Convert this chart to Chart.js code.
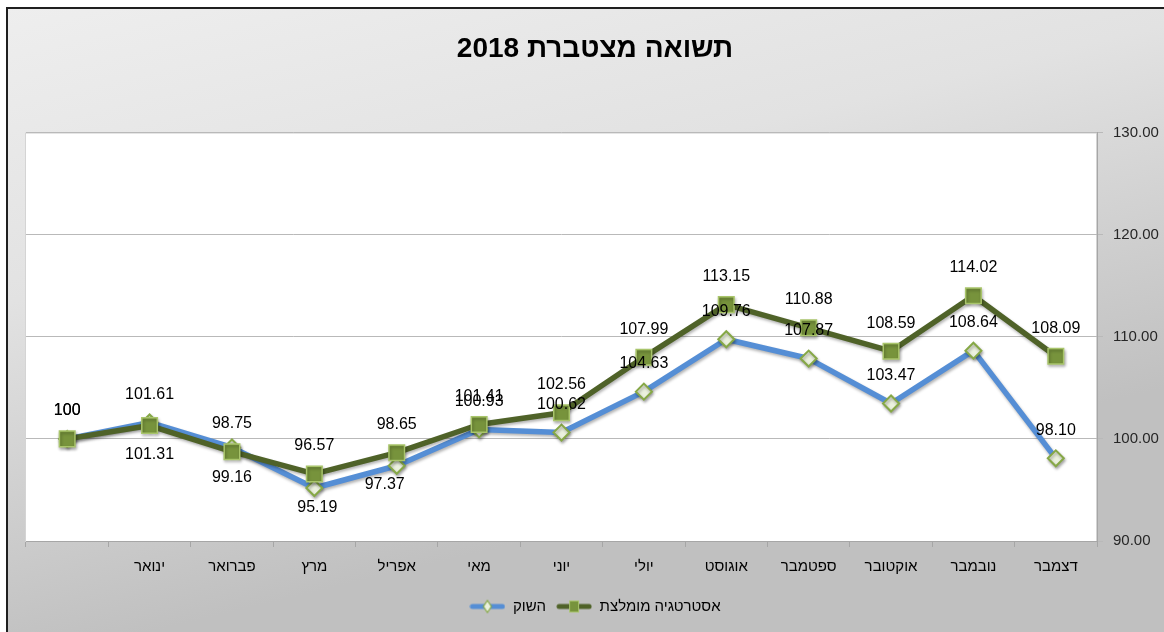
<!DOCTYPE html>
<html>
<head>
<meta charset="utf-8">
<script src="https://cdn.jsdelivr.net/npm/chart.js@4.4.1/dist/chart.umd.min.js"></script>
<style>
html,body{margin:0;padding:0;background:#fff;overflow:hidden}
#wrap{width:1164px;height:632px;position:relative}
</style>
</head>
<body>
<div id="wrap"><canvas id="c" width="1164" height="632"></canvas></div>
<script>
// ---- data ----
const chartTitle = 'תשואה מצטברת 2018';
const categories = ['', 'ינואר', 'פברואר', 'מרץ', 'אפריל', 'מאי', 'יוני', 'יולי', 'אוגוסט', 'ספטמבר', 'אוקטובר', 'נובמבר', 'דצמבר'];
const marketName = 'השוק';
const strategyName = 'אסטרטגיה מומלצת';
const marketValues = [100, 101.61, 99.16, 95.19, 97.37, 100.93, 100.62, 104.63, 109.76, 107.87, 103.47, 108.64, 98.10];
const strategyValues = [100, 101.31, 98.75, 96.57, 98.65, 101.41, 102.56, 107.99, 113.15, 110.88, 108.59, 114.02, 108.09];
const yTicks = [90, 100, 110, 120, 130];

// ---- styles ----
const FONT = "'Liberation Sans', Arial, 'DejaVu Sans', sans-serif";
const BLUE = '#558ED5';
const OLIVE = '#4F6228';
const SQ_FILL = '#77933C';
const SQ_BORDER = '#A9C56B';
const DI_FILL = '#EBF1DE';
const DI_BORDER = '#86A846';
const AXIS = '#a6a6a6';

Chart.defaults.font.family = FONT;
Chart.defaults.color = '#000';

function legendIcon(lineColor, marker) {
  const c = document.createElement('canvas');
  c.width = 36; c.height = 16;
  const g = c.getContext('2d');
  g.strokeStyle = lineColor; g.lineWidth = 5; g.lineCap = 'round';
  g.beginPath(); g.moveTo(3, 8); g.lineTo(33, 8); g.stroke();
  if (marker === 'diamond') {
    g.fillStyle = DI_FILL; g.strokeStyle = DI_BORDER; g.lineWidth = 1.2;
    g.beginPath(); g.moveTo(18, 2); g.lineTo(22, 8); g.lineTo(18, 14); g.lineTo(14, 8); g.closePath();
    g.fill(); g.stroke();
  } else {
    g.fillStyle = SQ_FILL; g.strokeStyle = SQ_BORDER; g.lineWidth = 1;
    g.fillRect(13, 2, 10, 12); g.strokeRect(13.5, 2.5, 9, 11);
  }
  return c;
}

const bgPlugin = {
  id: 'bg',
  beforeDraw(chart) {
    const {ctx, width, height, chartArea: a} = chart;
    ctx.save();
    ctx.fillStyle = '#fff';
    ctx.fillRect(0, 0, width, height);
    const gr = ctx.createLinearGradient(0, 8, 150, height);
    gr.addColorStop(0, '#eeeeee');
    gr.addColorStop(0.45, '#e2e2e2');
    gr.addColorStop(1, '#c0c0c0');
    ctx.fillStyle = gr;
    ctx.fillRect(7, 8, width - 7, height - 8);
    ctx.strokeStyle = '#1f1f1f';
    ctx.lineWidth = 2;
    ctx.beginPath();
    ctx.moveTo(7, height); ctx.lineTo(7, 8); ctx.lineTo(width, 8);
    ctx.stroke();
    ctx.fillStyle = '#fff';
    ctx.fillRect(a.left, a.top, a.right - a.left, a.bottom - a.top);
    ctx.strokeStyle = '#d4d4d4';
    ctx.lineWidth = 1;
    ctx.strokeRect(a.left - 0.5, a.top + 0.5, a.right - a.left, a.bottom - a.top);
    ctx.restore();
  }
};

const shadowPlugin = {
  id: 'shadow',
  beforeDatasetDraw(chart) {
    const ctx = chart.ctx;
    ctx.save();
    ctx.shadowColor = 'rgba(0,0,0,0.3)';
    ctx.shadowBlur = 3;
    ctx.shadowOffsetX = 1;
    ctx.shadowOffsetY = 2;
  },
  afterDatasetDraw(chart) {
    chart.ctx.restore();
  }
};

const labelPlugin = {
  id: 'valueLabels',
  afterDatasetsDraw(chart, args, opts) {
    const ctx = chart.ctx;
    ctx.save();
    ctx.font = opts.font;
    ctx.fillStyle = '#000';
    ctx.textAlign = 'center';
    ctx.textBaseline = 'middle';
    chart.data.datasets.forEach((ds, di) => {
      const meta = chart.getDatasetMeta(di);
      const offs = opts.offsets[ds.label] || {};
      meta.data.forEach((pt, i) => {
        const v = ds.data[i];
        const o = offs[i] || opts.defaultOffset;
        const txt = Number.isInteger(v) ? String(v) : v.toFixed(2);
        ctx.fillText(txt, pt.x + o[0], pt.y + o[1]);
      });
    });
    ctx.restore();
  }
};

new Chart(document.getElementById('c'), {
  type: 'line',
  data: {
    labels: categories,
    datasets: [
      {
        label: strategyName,
        data: strategyValues,
        order: 0,
        borderColor: OLIVE,
        borderWidth: 5.5,
        borderJoinStyle: 'round',
        tension: 0,
        fill: false,
        pointStyle: 'rect',
        pointRadius: 11,
        pointHoverRadius: 11,
        pointBackgroundColor: SQ_FILL,
        pointBorderColor: SQ_BORDER,
        pointBorderWidth: 1.5
      },
      {
        label: marketName,
        data: marketValues,
        order: 1,
        borderColor: BLUE,
        borderWidth: 5.5,
        borderJoinStyle: 'round',
        tension: 0,
        fill: false,
        pointStyle: 'rectRot',
        pointRadius: 8,
        pointHoverRadius: 8,
        pointBackgroundColor: DI_FILL,
        pointBorderColor: DI_BORDER,
        pointBorderWidth: 2
      }
    ]
  },
  options: {
    responsive: false,
    devicePixelRatio: 1,
    animation: false,
    layout: { padding: { left: 26, right: 0, top: 0, bottom: 8 } },
    plugins: {
      title: {
        display: true,
        text: chartTitle,
        color: '#000',
        font: { size: 28, weight: 'bold', family: FONT, lineHeight: 1.2 },
        padding: { top: 32, bottom: 67 }
      },
      legend: {
        display: true,
        position: 'bottom',
        labels: {
          usePointStyle: true,
          pointStyleWidth: 36,
          boxHeight: 16,
          padding: 10,
          color: '#000',
          font: { size: 15, family: FONT },
          generateLabels: () => [
            { text: marketName, pointStyle: legendIcon(BLUE, 'diamond'), fillStyle: 'rgba(0,0,0,0)', strokeStyle: 'rgba(0,0,0,0)', lineWidth: 0, datasetIndex: 1, fontColor: '#000' },
            { text: strategyName, pointStyle: legendIcon(OLIVE, 'square'), fillStyle: 'rgba(0,0,0,0)', strokeStyle: 'rgba(0,0,0,0)', lineWidth: 0, datasetIndex: 0, fontColor: '#000' }
          ]
        }
      },
      tooltip: { enabled: false },
      valueLabels: {
        font: '16px ' + FONT,
        defaultOffset: [0, -28],
        offsets: {
          [strategyName]: { 1: [0, 29] },
          [marketName]: { 2: [0, 30], 3: [3, 20], 4: [-12, 19] }
        }
      }
    },
    scales: {
      x: {
        offset: true,
        grid: { offset: true, drawOnChartArea: false, drawTicks: true, tickLength: 6, color: AXIS },
        border: { display: true, color: AXIS },
        ticks: { padding: 11, color: '#000', font: { size: 15, family: FONT }, maxRotation: 0, autoSkip: false },
        afterFit: s => { s.height = 48; }
      },
      y: {
        position: 'right',
        min: yTicks[0],
        max: yTicks[yTicks.length - 1],
        afterBuildTicks: s => { s.ticks = yTicks.map(v => ({ value: v })); },
        grid: { color: '#b9b9b9', drawTicks: true, tickLength: 6 },
        border: { display: true, color: AXIS },
        ticks: { padding: 10, color: '#262626', font: { size: 15, family: FONT }, callback: v => Number(v).toFixed(2) },
        afterFit: s => { s.width = 67; }
      }
    }
  },
  plugins: [bgPlugin, shadowPlugin, labelPlugin]
});
</script>
</body>
</html>
